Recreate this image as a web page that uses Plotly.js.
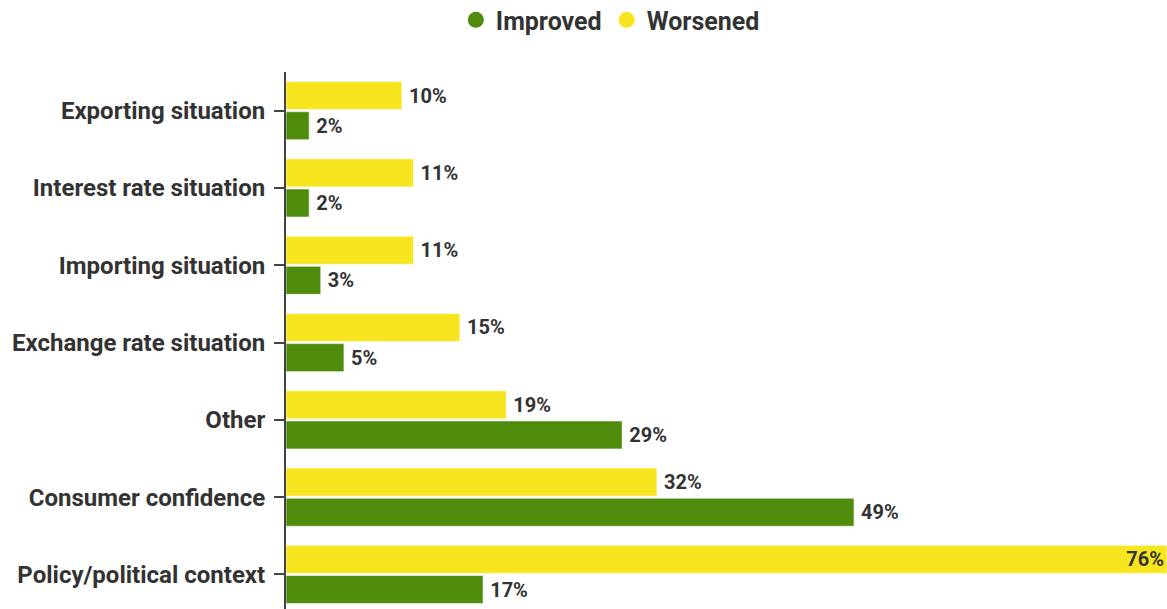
<!DOCTYPE html>
<html>
<head>
<meta charset="utf-8">
<script src="https://cdn.plot.ly/plotly-3.0.1.min.js"></script>
<style>html,body{margin:0;padding:0;background:#fff;}#chart{width:1167px;height:609px;}</style>
</head>
<body>
<div id="chart"></div>
<script>
// Categories listed bottom to top
const categories = ["Policy/political context", "Consumer confidence", "Other", "Exchange rate situation", "Importing situation", "Interest rate situation", "Exporting situation"];
const improved = [17, 49, 29, 5, 3, 2, 2];
const worsened = [76, 32, 19, 15, 11, 11, 10];
const seriesNames = ["Improved", "Worsened"];
const seriesColors = ["#4f8c0b", "#f7e51f"];

const FONT = "Roboto, 'Noto Sans', sans-serif";
const TXT = "#333333";
const X_MAX = 76;

function barTrace(name, vals, color) {
  return {
    type: "bar", orientation: "h", name: name,
    y: categories, x: vals,
    marker: {color: color, line: {color: "rgba(255,255,255,0.6)", width: 1}},
    text: vals.map(v => (v >= X_MAX * 0.9 ? v + "%" : "\u2009" + v + "%")),
    texttemplate: "%{text}",
    textposition: vals.map(v => (v >= X_MAX * 0.9 ? "inside" : "outside")),
    insidetextanchor: "end",
    textfont: {family: FONT, size: 20, color: TXT, weight: 700},
    constraintext: "none",
    cliponaxis: false, showlegend: false, hoverinfo: "x+y"
  };
}
function legendTrace(name, color) {
  return {
    type: "scatter", mode: "markers", name: name,
    x: [null], y: [null],
    marker: {color: color, size: 16, symbol: "circle"},
    showlegend: true
  };
}

const data = [
  barTrace(seriesNames[0], improved, seriesColors[0]),
  barTrace(seriesNames[1], worsened, seriesColors[1]),
  legendTrace(seriesNames[0], seriesColors[0]),
  legendTrace(seriesNames[1], seriesColors[1])
];

const layout = {
  width: 1167, height: 609,
  margin: {l: 286, r: 0, t: 72, b: 0, autoexpand: false},
  paper_bgcolor: "#fff", plot_bgcolor: "#fff",
  barmode: "group", bargap: 0.22, bargroupgap: 0.07,
  font: {family: FONT, color: TXT},
  xaxis: {range: [0, X_MAX], visible: false, fixedrange: true},
  yaxis: {
    type: "category", range: [-0.447, 6.5],
    showline: true, linecolor: "#444", linewidth: 2,
    ticks: "outside", ticklen: 10, tickcolor: "#444", tickwidth: 2,
    ticklabelstandoff: 4,
    tickfont: {family: FONT, size: 24, color: TXT, weight: 700},
    showgrid: false, zeroline: false
  },
  legend: {
    orientation: "h", x: 0.523, xref: "container", xanchor: "center",
    y: 0.967, yref: "container", yanchor: "middle",
    font: {family: FONT, size: 25, color: TXT, weight: 700},
    itemwidth: 20
  },
  showlegend: true
};

Plotly.newPlot("chart", data, layout, {displayModeBar: false, staticPlot: true});
</script>
</body>
</html>
